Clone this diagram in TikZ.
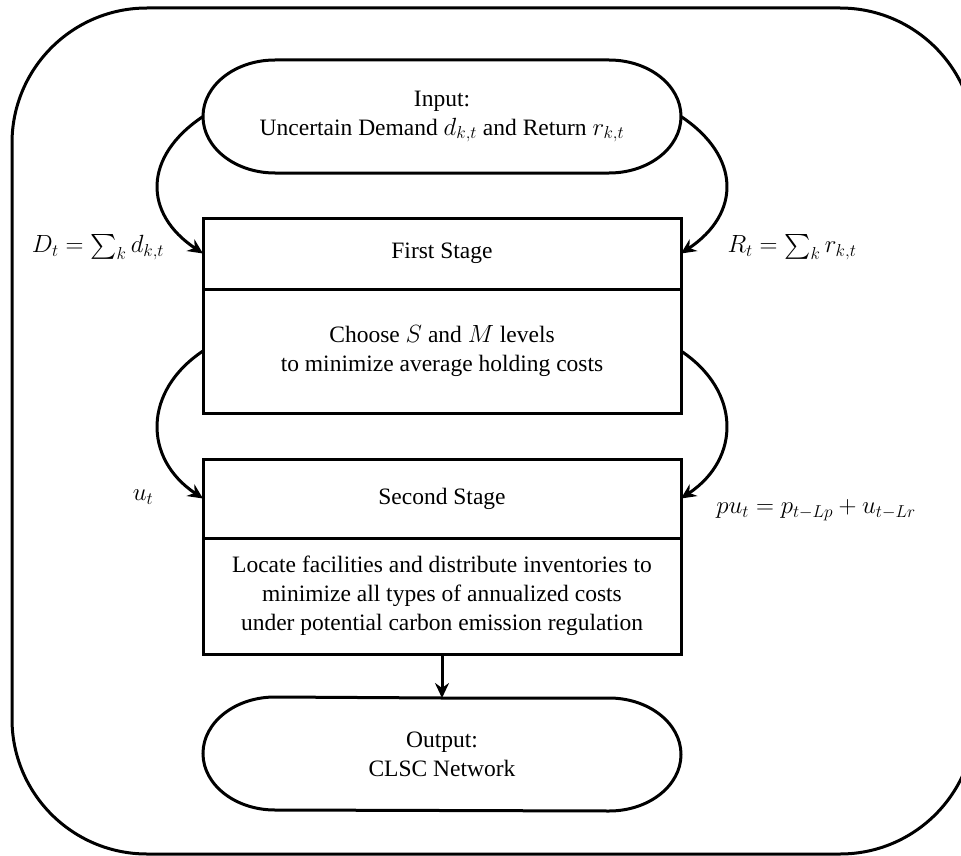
\documentclass[tikz,border=0pt]{standalone}
\usepackage{exscale}
\usepackage{fontspec}
\setmainfont{Liberation Serif}
\usetikzlibrary{arrows.meta}

% terminator outline with elliptical ends, drawn around a named node
\newcommand\termshape[1]{%
  \draw[line] (#1.north) -- ([xshift=-72pt]#1.north east)
    arc[start angle=90,end angle=-90,x radius=72pt,y radius=56.5pt]
    -- ([xshift=72pt]#1.south west)
    arc[start angle=270,end angle=90,x radius=72pt,y radius=56.5pt] -- cycle;}

\begin{document}
\begin{tikzpicture}[x=1pt,y=-1pt,
  every node/.style={font=\fontsize{23.5}{29}\selectfont, align=center},
  line/.style={line width=3pt},
  blk/.style={line, draw, rectangle, minimum width=478pt, inner sep=0pt, outer sep=0pt},
  term/.style={rectangle, minimum width=478pt, minimum height=113pt, inner sep=0pt, outer sep=0pt},
  flow/.style={line, -{Stealth[length=15pt,width=14pt,inset=5pt]}},
  lbl/.style={inner sep=0pt}]

\useasboundingbox (0,0) rectangle (961,856);
\clip (0,0) rectangle (961,856);

% outer frame
\draw[line, rounded corners=135pt] (12,8) rectangle (975,854);

% blocks
\node[term] (inp) at (442,116.5) {Input:\\Uncertain Demand $d_{k,t}$ and Return $r_{k,t}$};
\termshape{inp}
\node[blk, minimum height=71pt] (fsh) at (442,253.5) {First Stage};
\node[blk, minimum height=124pt] (fsb) at (442,351) {Choose $S$ and $M$ levels\\to minimize average holding costs};
\node[blk, minimum height=79pt] (ssh) at (442,498.5) {Second Stage};
\node[blk, minimum height=116pt] (ssb) at (442,596) {Locate facilities and distribute inventories to\\minimize all types of annualized costs\\under potential carbon emission regulation};
\node[term, minimum height=112pt] (out) at (442,754) {Output:\\CLSC Network};
\termshape{out}

% connectors
\draw[flow] (inp.west) .. controls +(-60,40) and +(-60,-40) .. (fsh.west);
\draw[flow] (inp.east) .. controls +(60,40) and +(60,-40) .. (fsh.east);
\draw[flow] (fsb.west) .. controls +(-60,40) and +(-60,-40) .. (ssh.west);
\draw[flow] (fsb.east) .. controls +(60,40) and +(60,-40) .. (ssh.east);
\draw[flow] (ssb.south) -- (out.north);

% labels
\node[lbl] (dsum) at (98,247) {$D_t = \sum_k d_{k,t}$};
\node[lbl] (rsum) at (792,247) {$R_t = \sum_k r_{k,t}$};
\node[lbl] (ut) at (143,497) {$u_t$};
\node[lbl] (put) at (816,510) {$pu_t = p_{t-Lp} + u_{t-Lr}$};
\end{tikzpicture}
\end{document}
